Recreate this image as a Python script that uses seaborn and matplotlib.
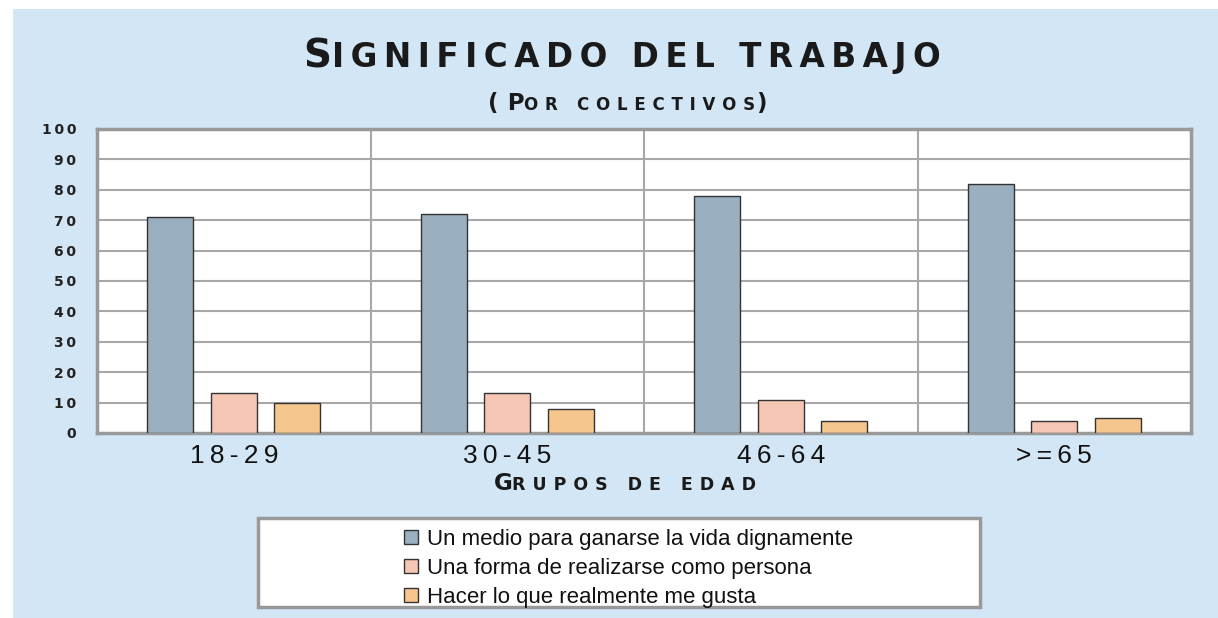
import matplotlib
matplotlib.use("Agg")
import matplotlib.pyplot as plt
import matplotlib.patches as mpatches
import seaborn as sns
import pandas as pd

categories = ["18-29", "30-45", "46-64", ">=65"]
series_names = [
    "Un medio para ganarse la vida dignamente",
    "Una forma de realizarse como persona",
    "Hacer lo que realmente me gusta",
]
medio_vida = [71, 72, 78, 82]
realizarse = [13, 13, 11, 4]
me_gusta = [10, 8, 4, 5]
y_ticks = [0, 10, 20, 30, 40, 50, 60, 70, 80, 90, 100]
colors = ["#9aafbf", "#f5c6b4", "#f5c68e"]

rows = []
for name, vals in zip(series_names, [medio_vida, realizarse, me_gusta]):
    for c, v in zip(categories, vals):
        rows.append({"grupo": c, "serie": name, "valor": v})
df = pd.DataFrame(rows)

sns.set_theme(style="white")
plt.rcParams["font.family"] = ["DejaVu Sans"]

W, H = 1218, 618
fig = plt.figure(figsize=(W / 100, H / 100), dpi=100, facecolor="white")
fig.patches.append(mpatches.Rectangle((13 / W, 0), 1 - 13 / W, 1 - 9 / H,
                                      transform=fig.transFigure, facecolor="#d2e6f5",
                                      edgecolor="none", zorder=-10))

ax = fig.add_axes([97 / W, 1 - 433 / H, (1191 - 97) / W, (433 - 129) / H])
ax.set_facecolor("white")

sns.barplot(data=df, x="grupo", y="valor", hue="serie", order=categories,
            hue_order=series_names, palette=colors, saturation=1, width=0.696, gap=0.276,
            edgecolor="#333333", linewidth=1.0, ax=ax, legend=False, zorder=3)

ax.set_xlim(-0.5, 3.5)
ax.set_ylim(0, 100)
ax.set_yticks(y_ticks)
ax.set_yticklabels(["\u2009".join(list(str(t))) for t in y_ticks], fontsize=10,
                   fontweight="bold", color="#222222")
ax.tick_params(axis="y", length=0, pad=15)
ax.tick_params(axis="x", length=0, pad=8)
ax.set_xticks(range(len(categories)))
spaced = ["\u2009".join(list(c)) for c in categories]
ax.set_xticklabels(spaced, fontsize=19, family=["Liberation Sans", "DejaVu Sans"],
                   color="#111111")
ax.set_xlabel("")
ax.set_ylabel("")
for yv in y_ticks[1:-1]:
    ax.axhline(yv, color="#a8a8a8", linewidth=1.5, zorder=1)
for xv in [0.5, 1.5, 2.5]:
    ax.axvline(xv, color="#a8a8a8", linewidth=1.5, zorder=1)
for sp in ax.spines.values():
    sp.set_visible(True)
    sp.set_color("#999999")
    sp.set_linewidth(2.5)

renderer = fig.canvas.get_renderer()


def track(s, n):
    return ("\u2009" * n).join(list(s))


def small_caps(segments, xc, yb, n, color="#1a1a1a"):
    texts = []
    widths = []
    for s, size in segments:
        t = fig.text(0, yb, track(s, n), fontsize=size, va="baseline", ha="left",
                     color=color, fontweight="bold", family="DejaVu Sans",
                     transform=fig.transFigure)
        bb = t.get_window_extent(renderer=renderer)
        texts.append(t)
        widths.append(bb.width)
    total = sum(widths)
    x = xc * W - total / 2
    for t, w in zip(texts, widths):
        t.set_x(x / W)
        x += w
    return texts


small_caps([("S", 28), ("IGNIFICADO DEL TRABAJO", 23.5)], 622 / W, 1 - 67 / H, 1)
small_caps([("(P", 16.5), ("OR COLECTIVOS", 12), (")", 16.5)], 627 / W, 1 - 110 / H, 2)
small_caps([("G", 16.5), ("RUPOS DE EDAD", 12.5)], 625 / W, 1 - 490 / H, 2)

fig.patches.append(mpatches.Rectangle((258 / W, 1 - 607 / H), (980 - 258) / W, (607 - 518) / H,
                                      transform=fig.transFigure, facecolor="white",
                                      edgecolor="#999999", linewidth=2.5, zorder=1))
handles = [mpatches.Patch(facecolor=c, edgecolor="#333333", linewidth=1.0) for c in colors]
leg = fig.legend(handles, series_names, loc="upper left",
                 bbox_to_anchor=(386 / W, 1 - 511 / H), frameon=False,
                 prop={"family": "Liberation Sans", "size": 16},
                 handlelength=0.65, handleheight=0.65, handletextpad=0.4,
                 labelspacing=0.36, borderpad=0.3)
for t in leg.get_texts():
    t.set_color("#111111")

fig.savefig("out.png", dpi=100, facecolor="white")
